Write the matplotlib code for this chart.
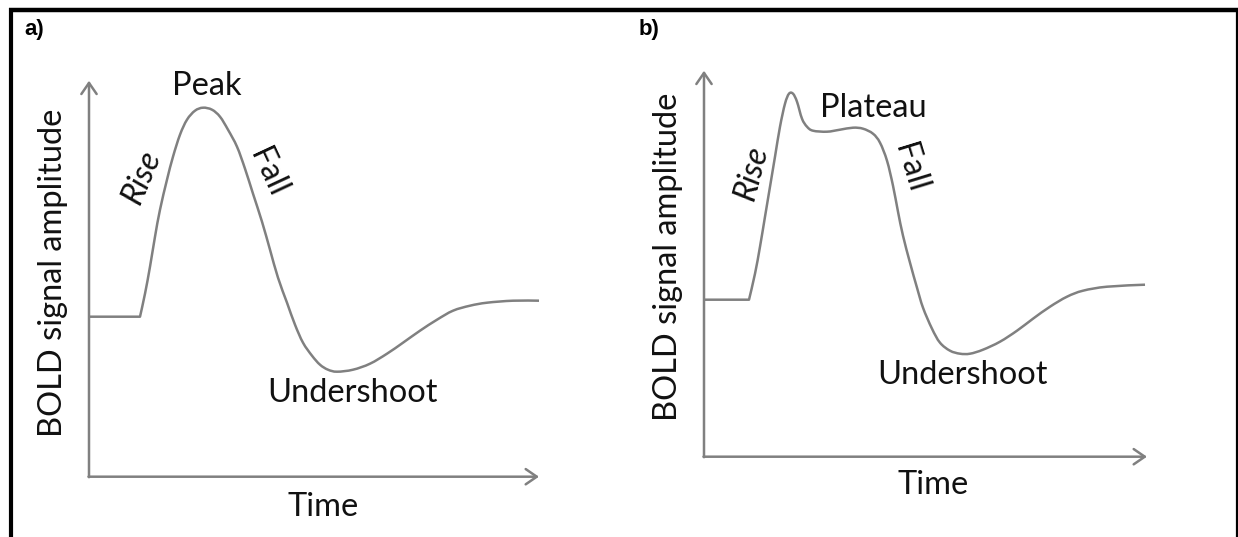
import matplotlib
matplotlib.use("Agg")
import numpy as np
import matplotlib.pyplot as plt
from matplotlib.path import Path
from matplotlib.patches import PathPatch

# ---- data (arbitrary time / amplitude units, origin at the axes corner) ----
# a) canonical haemodynamic response: rise, peak, fall, undershoot
time_a = [0, 51, 56, 61, 66, 71, 78, 84, 91, 98, 106, 114, 123, 131, 139, 148,
          156, 164, 173, 181, 189, 198, 206, 214, 223, 231, 239, 248, 264, 281,
          298, 314, 331, 348, 364, 381, 398, 424, 450]
amp_a = [160, 160, 183, 210, 240, 267, 297, 320, 342, 357, 366, 369, 367, 360,
         347, 330, 308, 283, 255, 227, 199, 174, 152, 134, 121, 112, 107, 105,
         107, 113, 123, 134, 146, 157, 166, 171, 174, 176, 176]

# b) sustained response: rise, initial overshoot, plateau, fall, undershoot
time_b = [0, 45, 51, 56, 61, 66, 71, 76, 81, 85, 89, 93, 98, 103, 109, 123,
          136, 149, 159, 169, 176, 183, 189, 194, 199, 206, 213, 219, 228, 236,
          246, 256, 266, 279, 296, 313, 329, 346, 363, 379, 403, 441]
amp_b = [157, 157, 183, 210, 240, 270, 300, 330, 353, 363, 363, 355, 338, 330,
         326, 325, 327, 329, 328, 323, 314, 296, 271, 245, 221, 194, 169, 149,
         128, 114, 106, 103, 103, 107, 115, 126, 138, 150, 160, 166, 170, 172]

panel_tags = ["a)", "b)"]
y_label = "BOLD signal amplitude"
x_label = "Time"

GRAY = "#808080"
FONT = ["Lato", "DejaVu Sans"]
W, H = 1238, 537

fig = plt.figure(figsize=(W / 100, H / 100), dpi=100)

# frame lines around the figure, drawn in pixel coordinates
frame = fig.add_axes([0, 0, 1, 1])
frame.set_xlim(0, W)
frame.set_ylim(H, 0)
frame.axis("off")
frame.plot([9, W], [9.5, 9.5], color="black", lw=3.2, solid_capstyle="butt")
frame.plot([11.3, 11.3], [8, H], color="black", lw=3.0, solid_capstyle="butt")
frame.plot([1236.5, 1236.5], [8, H], color="black", lw=1.6, solid_capstyle="butt")


def response_path(t, a):
    """Flat baseline, then a smooth curve through the remaining samples."""
    pts = np.column_stack([t, a]).astype(float)
    verts = [pts[0], pts[1]]
    codes = [Path.MOVETO, Path.LINETO]
    curve = pts[1:]
    n = len(curve)
    for i in range(n - 1):
        p0 = curve[max(i - 1, 0)]
        p1 = curve[i]
        p2 = curve[i + 1]
        p3 = curve[min(i + 2, n - 1)]
        c1 = p1 + (p2 - p0) / 6.0
        c2 = p2 - (p3 - p1) / 6.0
        verts += [c1, c2, p2]
        codes += [Path.CURVE4] * 3
    return Path(verts, codes)


def panel(left_px, top_px, width, height, t, a, labels):
    ax = fig.add_axes([left_px / W, (H - top_px - height) / H, width / W, height / H])
    ax.set_xlim(0, width)
    ax.set_ylim(0, height)
    ax.axis("off")
    arrow = dict(arrowstyle="->,head_length=0.8,head_width=0.55", color=GRAY,
                 lw=1.8, shrinkA=0, shrinkB=0, mutation_scale=10)
    ax.annotate("", xy=(width, 0), xytext=(-0.5, 0), arrowprops=arrow,
                annotation_clip=False)
    ax.annotate("", xy=(0, height), xytext=(0, -0.5), arrowprops=arrow,
                annotation_clip=False)
    ax.add_patch(PathPatch(response_path(t, a), fill=False, edgecolor=GRAY,
                           lw=1.8, joinstyle="round", clip_on=False))
    kw = dict(family=FONT, fontsize=23.5, color="#111111", ha="center",
              va="center", clip_on=False)
    for txt, (x, y), extra in labels:
        ax.text(x, y, txt, **kw, **extra)
    return ax


panel(89, 80.7, 450, 396, time_a, amp_a, [
    ("Peak", (118, 391), {}),
    ("Rise", (53, 300), dict(rotation=67, style="italic")),
    ("Fall", (179, 304), dict(rotation=-65)),
    ("Undershoot", (263, 84), {}),
    (x_label, (234, -30), {}),
    (y_label, (-36, 204), dict(rotation=90)),
])

panel(704, 70.7, 443, 386, time_b, amp_b, [
    ("Plateau", (169, 349), {}),
    ("Rise", (48, 284), dict(rotation=75, style="italic")),
    ("Fall", (206, 289), dict(rotation=-73)),
    ("Undershoot", (258, 82), {}),
    (x_label, (229, -28), {}),
    (y_label, (-36, 200), dict(rotation=90)),
])

for tag, x in zip(panel_tags, [24, 639]):
    fig.text(x / W, 1 - 35 / H, tag, family=["Liberation Sans", "DejaVu Sans"],
             fontsize=16, fontweight="bold", ha="left", va="baseline")

fig.savefig("out.png", dpi=100)
